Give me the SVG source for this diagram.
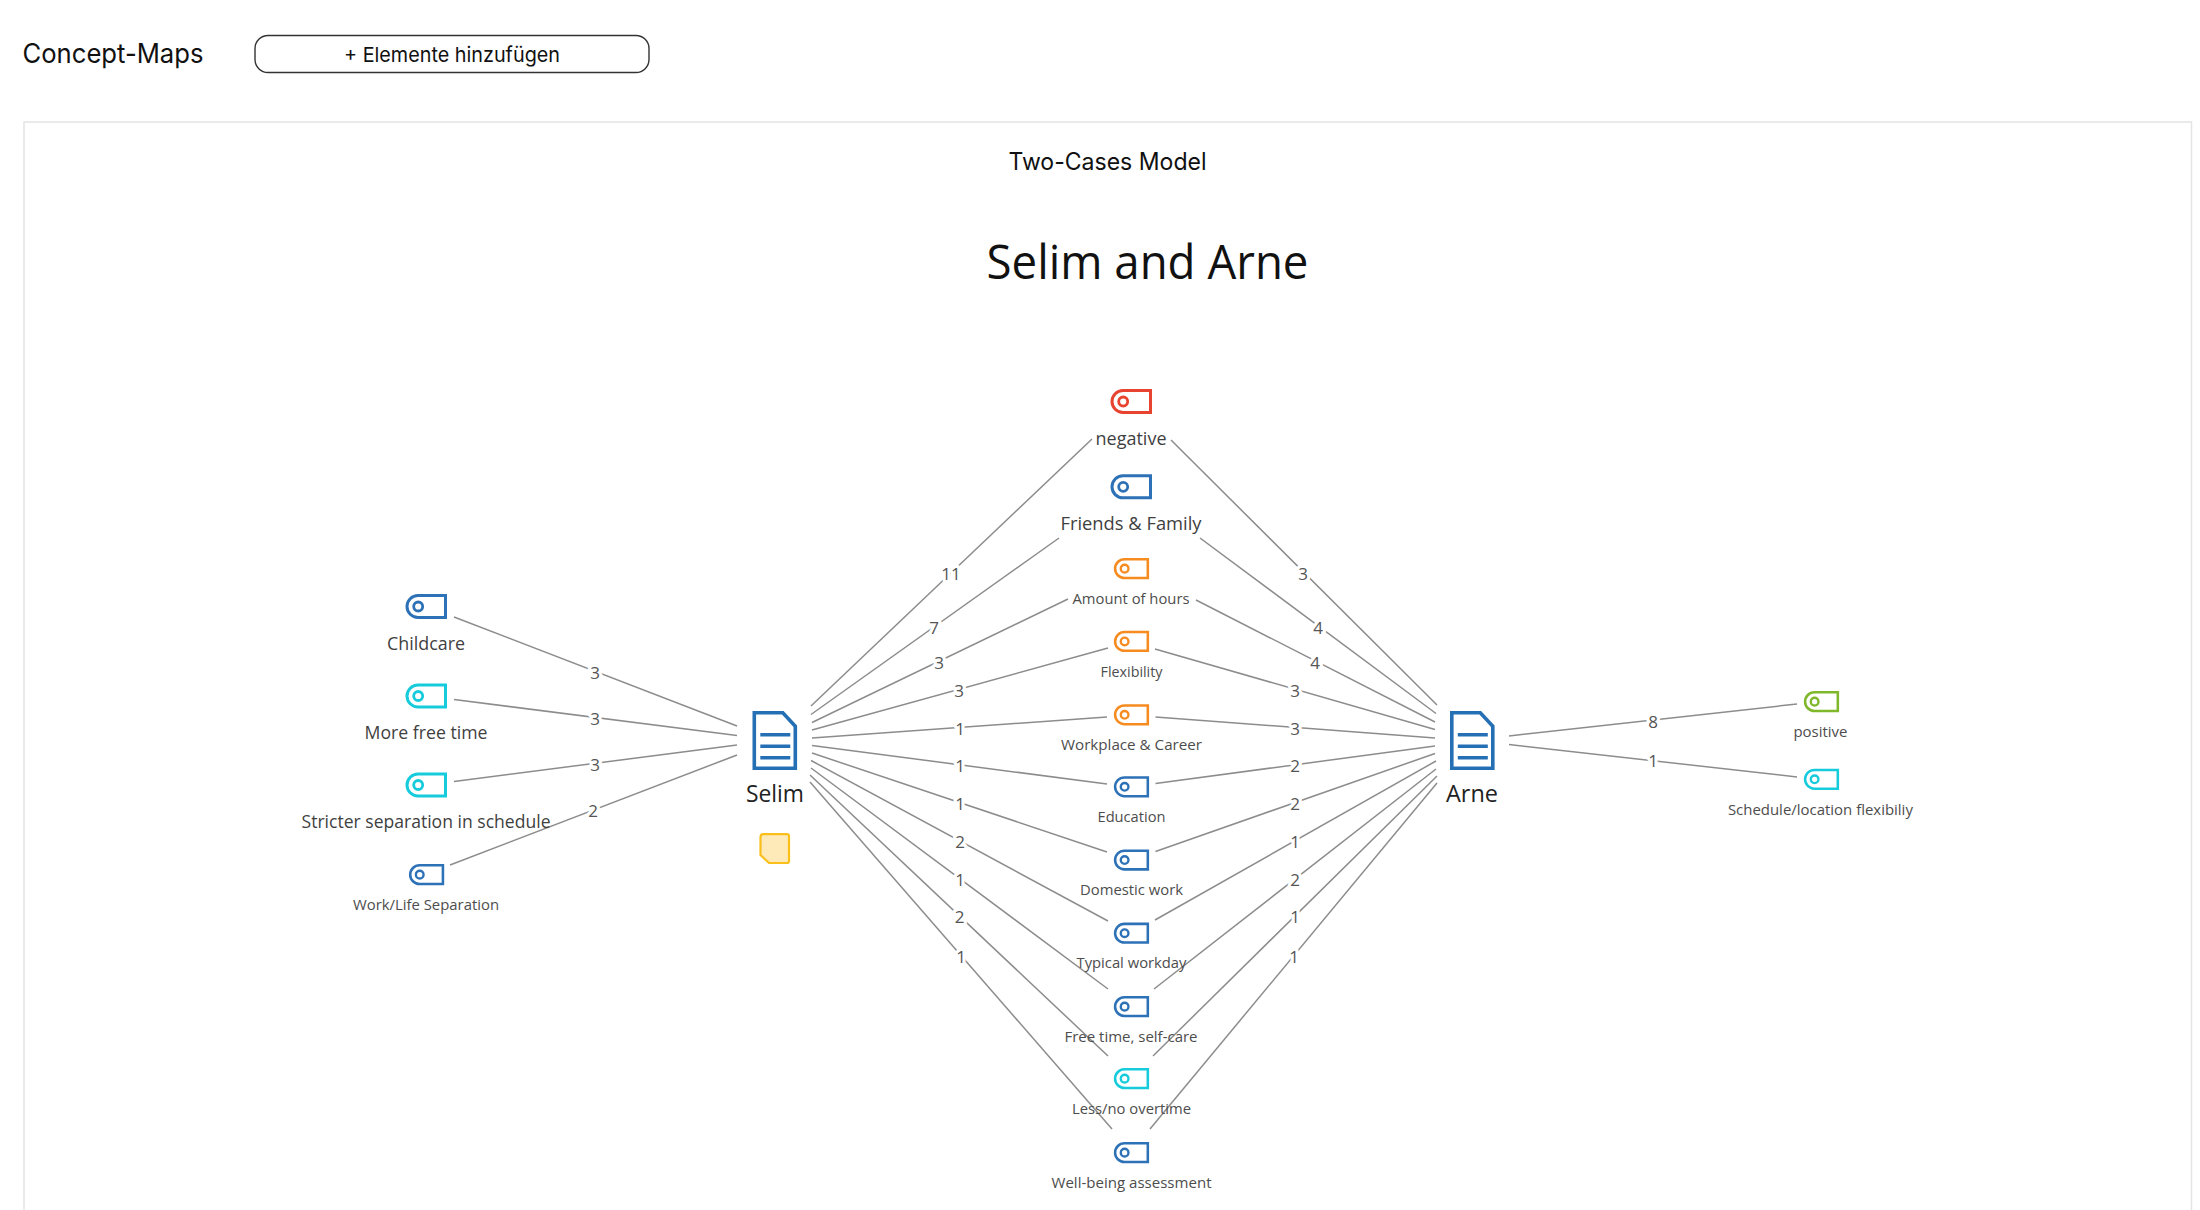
<svg xmlns="http://www.w3.org/2000/svg" width="2200" height="1210" viewBox="0 0 2200 1210">
<style>
text{font-family:"Open Sans","Noto Sans","DejaVu Sans",sans-serif;text-anchor:middle}
.ui{font-family:Inter,"Liberation Sans",sans-serif;fill:#111}
.lg{font-size:19px;fill:#3f3f3f}
.sm{font-size:15px;fill:#4d4d4d}
.doc{font-size:24px;fill:#222}
.edge line{stroke:#8c8c8c;stroke-width:1.5;fill:none}
.edge text{font-size:17px;fill:#555;stroke:#fff;stroke-width:6.5px;stroke-linejoin:round;paint-order:stroke}
.blue{color:#2d71b7}.red{color:#e8432f}.orange{color:#f68b1f}.cyan{color:#16cbdc}.green{color:#7fb82a}
</style>
<defs>
<g id="tag" fill="none" stroke="currentColor" stroke-width="3">
<path d="M40.5 1.5H13a11 11 0 0 0 0 22H40.5Z"/>
<circle cx="13.2" cy="12.5" r="4.5" stroke-width="2.8"/>
</g>
<g id="doc" fill="none" stroke="#2570b5">
<path d="M2 2H30.5L43 15.5V57.5H2Z" stroke-width="3.6"/>
<path d="M8 24H38M8 35.5H38M8 47H38" stroke-width="3.4"/>
</g>
</defs>
<rect width="2200" height="1210" fill="#fff"/>
<g id="header">
<text class="ui" x="113" y="63" font-size="27" textLength="181" lengthAdjust="spacingAndGlyphs">Concept-Maps</text>
<rect x="255" y="35.5" width="394" height="37" rx="13" fill="#fff" stroke="#333" stroke-width="1.4"/>
<text class="ui" x="452" y="62" font-size="20.5" textLength="216" lengthAdjust="spacingAndGlyphs">+ Elemente hinzufügen</text>
</g>
<rect id="card" x="24" y="122" width="2167.5" height="1200" fill="none" stroke="#e4e4e4" stroke-width="1.5"/>
<g id="titles">
<text class="ui" x="1107.5" y="170" font-size="24" textLength="198" lengthAdjust="spacingAndGlyphs">Two-Cases Model</text>
<text x="1147.5" y="279" font-size="47" fill="#111" textLength="322" lengthAdjust="spacingAndGlyphs">Selim and Arne</text>
</g>
<g id="connectors" class="edge">
<line x1="454" y1="617" x2="737" y2="726"/>
<line x1="454" y1="699.5" x2="737" y2="735.5"/>
<line x1="454" y1="781.5" x2="737" y2="745"/>
<line x1="450" y1="865" x2="737" y2="755"/>
<line x1="811" y1="706" x2="1092" y2="439"/>
<line x1="811" y1="714.5" x2="1059" y2="538"/>
<line x1="812" y1="722.5" x2="1068" y2="599"/>
<line x1="812" y1="730" x2="1108" y2="648"/>
<line x1="812" y1="738" x2="1107" y2="717"/>
<line x1="812" y1="745.5" x2="1107" y2="784"/>
<line x1="812" y1="753" x2="1107" y2="852"/>
<line x1="811" y1="760.5" x2="1108" y2="921"/>
<line x1="811" y1="768" x2="1108" y2="989"/>
<line x1="810" y1="775" x2="1108" y2="1056"/>
<line x1="810" y1="782" x2="1112" y2="1129"/>
<line x1="1437" y1="705" x2="1171" y2="440"/>
<line x1="1436" y1="713.5" x2="1200" y2="538"/>
<line x1="1435" y1="722" x2="1196" y2="600"/>
<line x1="1435" y1="729.5" x2="1155" y2="649"/>
<line x1="1435" y1="738" x2="1155.5" y2="717"/>
<line x1="1435" y1="746" x2="1155.5" y2="783.5"/>
<line x1="1435" y1="753.5" x2="1155.5" y2="851.5"/>
<line x1="1436" y1="761" x2="1155" y2="920"/>
<line x1="1436" y1="769" x2="1154" y2="989"/>
<line x1="1437" y1="776" x2="1153" y2="1056"/>
<line x1="1437" y1="783" x2="1150" y2="1129"/>
<line x1="1509" y1="736" x2="1797" y2="704"/>
<line x1="1509" y1="744.5" x2="1797" y2="777"/>
<text x="595" y="679">3</text>
<text x="595" y="725">3</text>
<text x="595" y="770.5">3</text>
<text x="593" y="817">2</text>
<text x="951" y="580">11</text>
<text x="934" y="633.5">7</text>
<text x="939" y="668.5">3</text>
<text x="959" y="696.5">3</text>
<text x="960" y="734.5">1</text>
<text x="960" y="772">1</text>
<text x="960" y="810">1</text>
<text x="960" y="848">2</text>
<text x="960" y="885.5">1</text>
<text x="959.5" y="923">2</text>
<text x="961" y="963">1</text>
<text x="1303" y="580">3</text>
<text x="1318" y="633.5">4</text>
<text x="1315" y="669">4</text>
<text x="1295" y="696.5">3</text>
<text x="1295" y="734.5">3</text>
<text x="1295" y="772">2</text>
<text x="1295" y="810">2</text>
<text x="1295" y="848">1</text>
<text x="1295" y="886">2</text>
<text x="1295" y="923">1</text>
<text x="1294" y="963">1</text>
<text x="1653" y="728">8</text>
<text x="1653" y="767">1</text>
</g>
<g id="node-childcare" class="blue"><use href="#tag" transform="translate(405 594)"/><text class="lg" x="426" y="650" textLength="78" lengthAdjust="spacingAndGlyphs">Childcare</text></g>
<g id="node-more-free-time" class="cyan"><use href="#tag" transform="translate(405 683.5)"/><text class="lg" x="426" y="739" textLength="123" lengthAdjust="spacingAndGlyphs">More free time</text></g>
<g id="node-stricter" class="cyan"><use href="#tag" transform="translate(405 772.5)"/><text class="lg" x="426" y="828" textLength="249" lengthAdjust="spacingAndGlyphs">Stricter separation in schedule</text></g>
<g id="node-work-life" class="blue"><use href="#tag" transform="translate(408.5 864) scale(.85)"/><text class="sm" x="426" y="910" textLength="146" lengthAdjust="spacingAndGlyphs">Work/Life Separation</text></g>
<g id="node-selim"><use href="#doc" transform="translate(752.3 710.7)"/><text class="doc" x="775" y="801.7" textLength="58" lengthAdjust="spacingAndGlyphs">Selim</text></g>
<g id="node-memo"><path d="M763.5 834.2H787Q789 834.2 789 836.2V861Q789 863 787 863H769L760.5 855V837.2Q760.5 834.2 763.5 834.2Z" fill="#fdeab8" stroke="#fbbf1c" stroke-width="2.2"/></g>
<g id="node-arne"><use href="#doc" transform="translate(1449.8 710.7)"/><text class="doc" x="1472" y="801.7" textLength="52" lengthAdjust="spacingAndGlyphs">Arne</text></g>
<g id="node-negative" class="red"><use href="#tag" transform="translate(1110 389)"/><text class="lg" x="1131" y="444.5" textLength="71" lengthAdjust="spacingAndGlyphs">negative</text></g>
<g id="node-friends" class="blue"><use href="#tag" transform="translate(1110 474.3)"/><text class="lg" x="1131" y="530.3" textLength="141" lengthAdjust="spacingAndGlyphs">Friends &amp; Family</text></g>
<g id="node-amount" class="orange"><use href="#tag" transform="translate(1113.4 558) scale(.85)"/><text class="sm" x="1131" y="604" textLength="117" lengthAdjust="spacingAndGlyphs">Amount of hours</text></g>
<g id="node-flexibility" class="orange"><use href="#tag" transform="translate(1113.4 630.8) scale(.85)"/><text class="sm" x="1131.5" y="677" textLength="62" lengthAdjust="spacingAndGlyphs">Flexibility</text></g>
<g id="node-workplace" class="orange"><use href="#tag" transform="translate(1113.4 704.2) scale(.85)"/><text class="sm" x="1131.5" y="750" textLength="141" lengthAdjust="spacingAndGlyphs">Workplace &amp; Career</text></g>
<g id="node-education" class="blue"><use href="#tag" transform="translate(1113.4 776.2) scale(.85)"/><text class="sm" x="1131.5" y="822" textLength="68" lengthAdjust="spacingAndGlyphs">Education</text></g>
<g id="node-domestic" class="blue"><use href="#tag" transform="translate(1113.4 849.4) scale(.85)"/><text class="sm" x="1131.5" y="895" textLength="103" lengthAdjust="spacingAndGlyphs">Domestic work</text></g>
<g id="node-typical" class="blue"><use href="#tag" transform="translate(1113.4 922.6) scale(.85)"/><text class="sm" x="1131.5" y="968.3" textLength="110" lengthAdjust="spacingAndGlyphs">Typical workday</text></g>
<g id="node-free" class="blue"><use href="#tag" transform="translate(1113.4 996) scale(.85)"/><text class="sm" x="1131" y="1042" textLength="133" lengthAdjust="spacingAndGlyphs">Free time, self-care</text></g>
<g id="node-less" class="cyan"><use href="#tag" transform="translate(1113.4 1068) scale(.85)"/><text class="sm" x="1131.5" y="1114" textLength="119" lengthAdjust="spacingAndGlyphs">Less/no overtime</text></g>
<g id="node-wellbeing" class="blue"><use href="#tag" transform="translate(1113.4 1142) scale(.85)"/><text class="sm" x="1131.5" y="1188" textLength="160" lengthAdjust="spacingAndGlyphs">Well-being assessment</text></g>
<g id="node-positive" class="green"><use href="#tag" transform="translate(1803.4 691) scale(.85)"/><text class="sm" x="1820.4" y="737" textLength="54" lengthAdjust="spacingAndGlyphs">positive</text></g>
<g id="node-schedule" class="cyan"><use href="#tag" transform="translate(1803.4 768.7) scale(.85)"/><text class="sm" x="1820.4" y="815" textLength="185" lengthAdjust="spacingAndGlyphs">Schedule/location flexibiliy</text></g>
</svg>
